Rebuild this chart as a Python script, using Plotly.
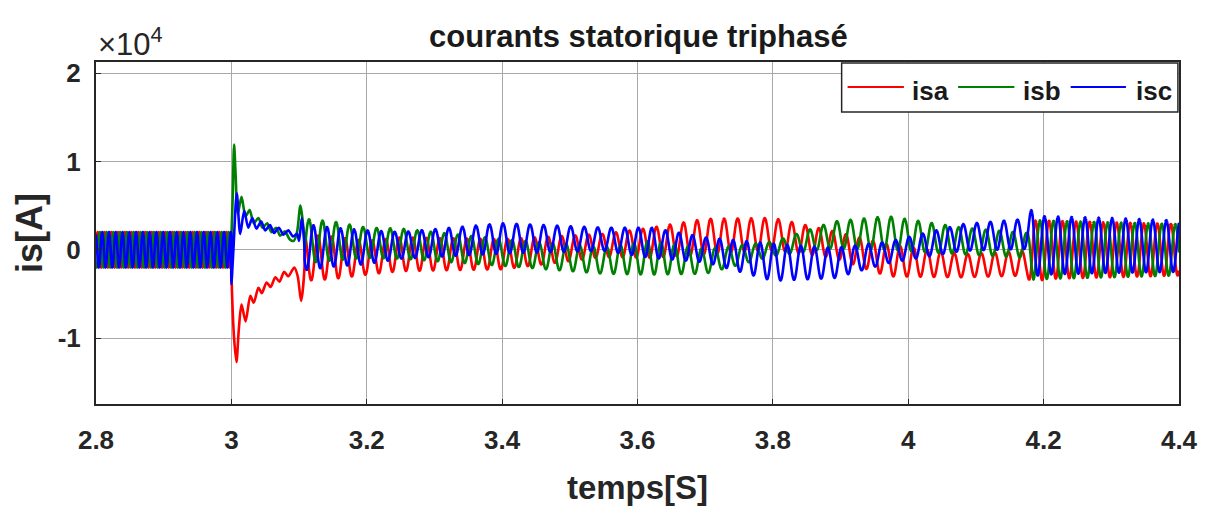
import numpy as np
import plotly.graph_objects as go

# ---------------- data (currents in A) ----------------
# steady state before the 3 s event
pre_t0, pre_t1 = 2.8, 3.0
pre_freq = 100.0                     # Hz
pre_amp = [2000, 2000, 2000]         # isa, isb, isc
pre_mean = [0, 0, 0]

# transient 3.0 s .. 3.108 s
tr_t_isa = [3.000, 3.001, 3.004, 3.0075, 3.011, 3.015, 3.021, 3.028, 3.033, 3.040, 3.045,
            3.052, 3.058, 3.065, 3.071, 3.078, 3.084, 3.093, 3.098, 3.103, 3.108]
tr_isa = [-2000, -5000, -10000, -12700, -9000, -6200, -8100, -5200, -6000, -4300, -4900,
          -3700, -4200, -3100, -3600, -2500, -3000, -2000, -3000, -5800, -2000]

tr_t_isb = [3.000, 3.002, 3.004, 3.006, 3.0095, 3.015, 3.021, 3.027, 3.033, 3.040, 3.046,
            3.053, 3.059, 3.066, 3.072, 3.079, 3.086, 3.092, 3.097, 3.102, 3.108]
tr_isb = [1000, 6000, 11900, 9000, 4100, 6000, 3800, 4500, 3000, 3600, 2500,
          3000, 2000, 2500, 1600, 2100, 1200, 1000, 2000, 5000, 1000]

tr_t_isc = [3.000, 3.003, 3.008, 3.013, 3.019, 3.025, 3.031, 3.037, 3.044, 3.050, 3.057,
            3.063, 3.070, 3.077, 3.084, 3.091, 3.097, 3.100, 3.104, 3.108]
tr_isc = [-3900, 0, 6400, 1800, 4400, 2500, 3600, 2400, 3200, 2200, 2800,
          1900, 2500, 1700, 2200, 1500, 1800, 1000, 3600, 300]

# oscillation after 3.108 s: envelope (mean value and amplitude) per phase
post_freq = 50.0                     # Hz
env_t = [3.108, 3.15, 3.2, 3.25, 3.4, 3.55, 3.62, 3.7, 3.8, 3.89, 3.97, 4.08, 4.175, 4.185, 4.2, 4.3, 4.4]
isa_mean = [-900, -900, -900, -500, -500, 500, 800, 1500, 1800, 600, -1200, -1800, -1500, -500, 0, 0, 0]
isa_amp = [2600, 2400, 1900, 1900, 1700, 1300, 1700, 2000, 1800, 1500, 1800, 1300, 1400, 3800, 3300, 3100, 2900]
isb_mean = [1000, 1000, 800, 700, -300, -1200, -900, -1300, 100, 1700, 1900, 1000, 500, 0, 0, 0, 0]
isb_amp = [2500, 2200, 1700, 1700, 1500, 1500, 1900, 1400, 800, 1500, 1900, 1500, 1400, 3400, 3300, 3100, 2900]
isc_mean = [300, 300, 300, 500, 1300, 1200, 800, 0, -1400, -1500, -300, 1400, 1800, 1000, 500, 500, 400]
isc_amp = [2600, 2200, 1900, 1500, 1700, 1300, 1700, 1400, 2100, 1700, 1200, 1500, 1700, 4000, 3300, 3100, 2900]

names = ["isa", "isb", "isc"]
colors = ["#ff0000", "#008000", "#0000ff"]
phase_shift = [0.0, -2 * np.pi / 3, 2 * np.pi / 3]

# ---------------- build the three waveforms ----------------
t_pre = np.arange(pre_t0, pre_t1, 0.0002)
t_post = np.arange(env_t[0], 4.4 + 1e-9, 0.0002)

tr_t = [tr_t_isa, tr_t_isb, tr_t_isc]
tr_v = [tr_isa, tr_isb, tr_isc]
env_mean = [isa_mean, isb_mean, isc_mean]
env_amp = [isa_amp, isb_amp, isc_amp]

fig = go.Figure()
for k in range(3):
    y_pre = pre_mean[k] + pre_amp[k] * np.sin(2 * np.pi * pre_freq * (t_pre - pre_t0) + phase_shift[k])
    m = np.interp(t_post, env_t, env_mean[k])
    a = np.interp(t_post, env_t, env_amp[k])
    y_post = m + a * np.sin(2 * np.pi * post_freq * (t_post - env_t[0]) + phase_shift[k] + np.pi / 2)
    t_all = np.concatenate([t_pre, np.array(tr_t[k]), t_post[1:]])
    y_all = np.concatenate([y_pre, np.array(tr_v[k]), y_post[1:]])
    fig.add_trace(go.Scatter(x=t_all, y=y_all, mode="lines", name=names[k],
                             line=dict(color=colors[k], width=2.6, shape="spline", smoothing=0.8),
                             showlegend=False))

# ---------------- axes ----------------
x_ticks = [2.8, 3.0, 3.2, 3.4, 3.6, 3.8, 4.0, 4.2, 4.4]
x_tick_text = ["2.8", "3", "3.2", "3.4", "3.6", "3.8", "4", "4.2", "4.4"]
y_ticks = [-10000, 0, 10000, 20000]
y_tick_text = ["-1", "0", "1", "2"]

font_family = "Liberation Sans, Arial, sans-serif"
ink = "#262626"

fig.update_xaxes(range=[2.8, 4.4], tickvals=x_ticks, ticktext=x_tick_text,
                 showgrid=True, gridcolor="#a8a8a8", gridwidth=1,
                 showline=True, linecolor=ink, linewidth=2, mirror=True,
                 ticks="inside", ticklen=5, tickcolor=ink, zeroline=False,
                 ticklabelstandoff=12,
                 tickfont=dict(family=font_family, size=26, color=ink, weight="bold"),
                 title=dict(text="<b>temps[S]</b>", standoff=22,
                            font=dict(family=font_family, size=33, color=ink)))
fig.update_yaxes(range=[-17450, 21250], tickvals=y_ticks, ticktext=y_tick_text,
                 showgrid=True, gridcolor="#a8a8a8", gridwidth=1,
                 showline=True, linecolor=ink, linewidth=2, mirror=True,
                 ticks="inside", ticklen=5, tickcolor=ink, zeroline=False,
                 ticklabelstandoff=8,
                 tickfont=dict(family=font_family, size=26, color=ink, weight="bold"),
                 title=dict(text="<b>is[A]</b>", standoff=4,
                            font=dict(family=font_family, size=36, color=ink)))

# ---------------- legend box ----------------
shapes = [dict(type="rect", xref="paper", yref="paper", x0=0.6885, x1=0.999, y0=0.854, y1=0.997,
               fillcolor="white", line=dict(color=ink, width=1.5), layer="above")]
annotations = []
leg_line_x = [(0.694, 0.746), (0.796, 0.848), (0.900, 0.951)]
leg_text_x = [0.752, 0.854, 0.958]
for k in range(3):
    shapes.append(dict(type="line", xref="paper", yref="paper",
                       x0=leg_line_x[k][0], x1=leg_line_x[k][1], y0=0.927, y1=0.927,
                       line=dict(color=colors[k], width=2), layer="above"))
    annotations.append(dict(xref="paper", yref="paper", x=leg_text_x[k], y=0.915,
                            xanchor="left", yanchor="middle", showarrow=False,
                            text="<b>" + names[k] + "</b>",
                            font=dict(family=font_family, size=26, color="#1a1a1a")))

# exponent label of the y axis
annotations.append(dict(xref="paper", yref="paper", x=0.0, y=1.0, xanchor="left", yanchor="bottom",
                        yshift=-2, showarrow=False, text="×10<sup>4</sup>",
                        font=dict(family=font_family, size=31, color=ink)))

fig.update_layout(
    width=1210, height=516,
    margin=dict(l=96, r=29, t=62, b=112),
    paper_bgcolor="white", plot_bgcolor="white",
    title=dict(text="<b>courants statorique triphasé</b>", x=0.5276, xanchor="center",
               y=0.93, yanchor="middle",
               font=dict(family=font_family, size=31, color="#1a1a1a")),
    shapes=shapes, annotations=annotations,
)

fig.write_html("out.html")
